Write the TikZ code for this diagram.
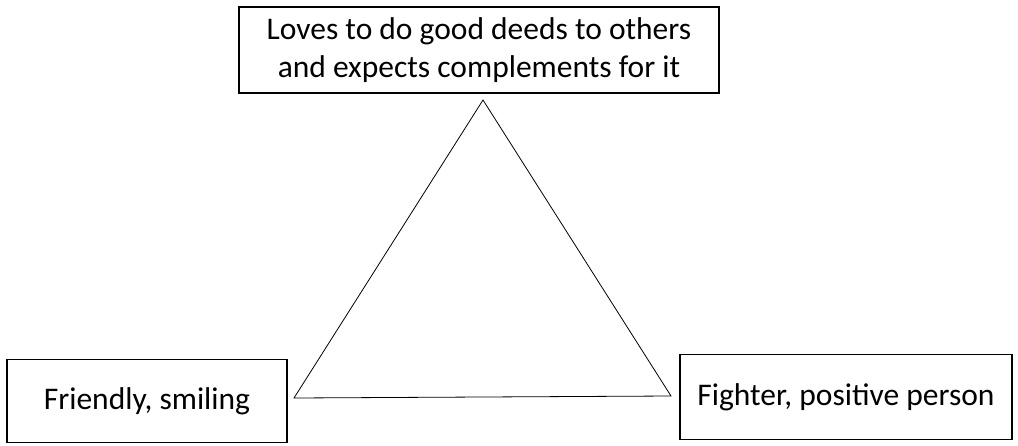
\documentclass[tikz,border=0pt]{standalone}
\usepackage{fontspec}
\setmainfont{Carlito}
\usetikzlibrary{positioning}

\begin{document}
\begin{tikzpicture}[
            x=1pt,
            y=-1pt,
            trait/.style={draw, line width=1.5pt, inner sep=0pt, align=center, font=\fontsize{31.5}{38}\selectfont}
        ]
        \useasboundingbox (0,0) rectangle (1018,445);

        % Define boxes
        \node[trait, minimum width=480pt, minimum height=86pt] (deeds) at (479,50) {Loves to do good deeds to others\\and expects complements for it};
        \node[trait, minimum width=280pt, minimum height=83pt] (friendly) at (147,401) {Friendly, smiling};
        \node[trait, minimum width=332pt, minimum height=85pt] (fighter) at (846,397) {Fighter, positive person};

        % Draw triangle
        \coordinate (apex) at (483,100);
        \coordinate (baseleft) at (294,398);
        \coordinate (baseright) at (671,396);
        \draw[line width=0.8pt] (apex) -- (baseleft) -- (baseright) -- cycle;
        \end{tikzpicture}
\end{document}
